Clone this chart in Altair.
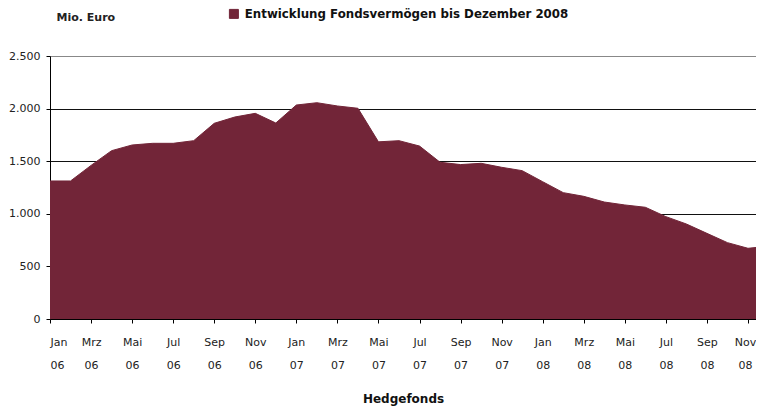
import altair as alt
import pandas as pd

# Month index 0 = Jan 06 ... 35 = Dez 08
month_names = ["Jan", "Feb", "Mrz", "Apr", "Mai", "Jun", "Jul", "Aug", "Sep", "Okt", "Nov", "Dez"]
year_names = ["06", "07", "08"]
values = [
    1312, 1312, 1460, 1600, 1654, 1670, 1670, 1695, 1860, 1920, 1955, 1863,
    2034, 2056, 2025, 2003, 1684, 1695, 1644, 1490, 1468, 1480, 1442, 1410,
    1305, 1201, 1166, 1112, 1084, 1062, 973, 903, 814, 726, 672, 692,
]
series_name = "Entwicklung Fondsvermögen bis Dezember 2008"
y_ticks = [0, 500, 1000, 1500, 2000, 2500]

df = pd.DataFrame({"m": list(range(len(values))), "v": values, "s": series_name})

FONT = "DejaVu Sans"
AREA = "#722538"

months_js = "[" + ",".join(f"'{m}'" for m in month_names) + "]"
years_js = "[" + ",".join(f"'{y}'" for y in year_names) + "]"
label_expr = f"[{months_js}[datum.value % 12], {years_js}[floor(datum.value / 12)]]"

x = alt.X(
    "m:Q",
    scale=alt.Scale(domain=[0, 34.39], nice=False, zero=False),
    axis=alt.Axis(
        values=list(range(0, 36, 2)),
        labelExpr=label_expr,
        labelFont=FONT,
        labelFontSize=11,
        labelColor="#222222",
        labelLineHeight=23,
        labelPadding=13,
        labelBaseline="top",
        labelOffset={"condition": {"test": "datum.value === 34", "value": -3}, "value": 0},
        tickSize=4,
        tickColor="#000000",
        domainColor="#000000",
        grid=False,
        title="Hedgefonds",
        titleFont=FONT,
        titleFontSize=12,
        titleFontWeight="bold",
        titleColor="#111111",
        titleY=79,
        titleBaseline="middle",
    ),
)

y = alt.Y(
    "v:Q",
    scale=alt.Scale(domain=[0, 2500], nice=False),
    axis=alt.Axis(
        values=y_ticks,
        labelExpr="replace(format(datum.value, ','), ',', '.')",
        labelFont=FONT,
        labelFontSize=11,
        labelColor="#222222",
        labelPadding=6,
        tickSize=4,
        tickColor="#000000",
        domainColor="#000000",
        grid=True,
        gridColor={"condition": {"test": "datum.value === 2500", "value": "#888888"}, "value": "#111111"},
        gridWidth=1,
        title="Mio. Euro",
        titleFont=FONT,
        titleFontSize=11,
        titleFontWeight="bold",
        titleColor="#222222",
        titleAngle=0,
        titleAlign="left",
        titleBaseline="middle",
        titleX=6,
        titleY=-39,
    ),
)

area = alt.Chart(df).mark_area(
    clip=True,
    line={"color": "#000000", "strokeWidth": 1},
    opacity=1,
).encode(
    x=x,
    y=y,
    color=alt.Color(
        "s:N",
        scale=alt.Scale(range=[AREA]),
        legend=alt.Legend(
            orient="none",
            legendX=178,
            legendY=-48,
            title=None,
            padding=0,
            symbolType="square",
            symbolSize=81,
            symbolStrokeColor="#000000",
            symbolStrokeWidth=1,
            symbolFillColor=AREA,
            labelFont=FONT,
            labelFontSize=11.8,
            labelFontWeight="bold",
            labelColor="#111111",
            labelOffset=5,
            labelLimit=600,
        ),
    ),
)

chart = area.properties(
    width=706,
    height=263,
    padding={"left": 42, "top": 48, "right": 0, "bottom": 90},
    autosize=alt.AutoSizeParams(type="none"),
).configure_view(stroke=None).configure(background="white")

chart.save("out.html", embed_options={"renderer": "svg", "actions": False})
